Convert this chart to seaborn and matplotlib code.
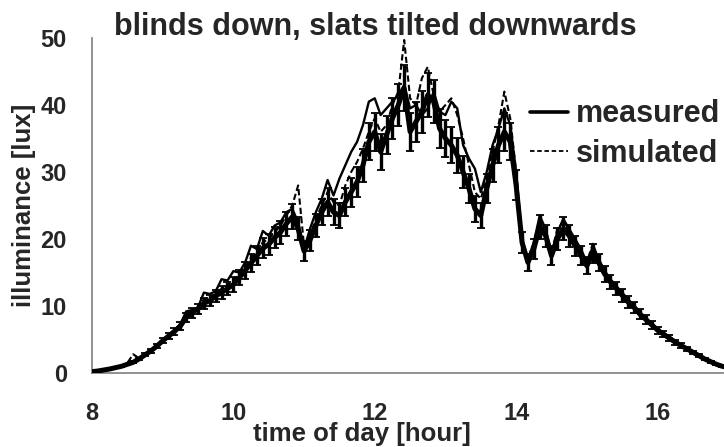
import numpy as np
import pandas as pd
import matplotlib
matplotlib.use("Agg")
import matplotlib.pyplot as plt
import seaborn as sns
from matplotlib.lines import Line2D

# Time of day in 5-minute steps, 8:00 to 17:00
hours = [8 + k / 12 for k in range(109)]

# Measured illuminance (sensor with error bars) [lux]
measured = [
    0.2, 0.3, 0.45, 0.6, 0.8, 1.0, 1.3, 1.6, 2.1, 2.7,
    3.3, 4.0, 4.8, 5.5, 6.2, 7.0, 8.3, 9.0, 9.6, 10.4,
    10.8, 11.5, 12.0, 12.6, 13.2, 14.2, 15.3, 16.4, 17.5, 18.6,
    19.2, 20.2, 21.0, 22.3, 23.3, 21.5, 18.2, 19.8, 22.0, 24.0,
    25.5, 24.0, 23.5, 25.5, 27.0, 28.5, 31.0, 34.5, 36.0, 33.0,
    35.5, 38.0, 40.0, 42.5, 36.0, 37.5, 39.0, 41.5, 40.5, 36.5,
    35.0, 34.0, 32.5, 30.0, 27.5, 24.5, 23.5, 27.5, 31.0, 34.0,
    36.0, 34.5, 28.0, 19.5, 16.5, 18.5, 21.8, 20.5, 17.5, 20.0,
    21.5, 20.5, 19.0, 17.5, 16.0, 17.8, 16.5, 14.8, 13.6, 12.6,
    11.6, 10.6, 9.8, 8.8, 8.0, 7.2, 6.4, 5.8, 5.2, 4.6,
    4.1, 3.6, 3.1, 2.6, 2.1, 1.7, 1.3, 1.0, 0.8,
]

# Second measuring point, drawn as a thin solid line [lux]
measured_point2 = [
    0.25, 0.35, 0.5, 0.65, 0.85, 1.1, 1.4, 1.7, 2.2, 2.8,
    3.4, 4.1, 4.9, 5.7, 6.4, 7.3, 9.2, 9.4, 9.8, 12.0,
    11.8, 12.2, 14.0, 13.8, 15.2, 15.0, 16.5, 19.0, 18.5, 21.2,
    20.5, 22.0, 22.5, 24.0, 24.5, 22.5, 18.5, 21.5, 24.0, 26.0,
    28.8, 26.5, 29.0, 31.0, 33.0, 34.5, 37.0, 40.5, 41.0, 38.5,
    39.5, 40.5, 41.5, 43.0, 39.5, 40.0, 38.5, 39.5, 42.0, 39.0,
    38.5, 40.5, 39.5, 34.0, 32.0, 30.5, 27.0, 30.0, 34.0, 36.5,
    39.5, 37.0, 30.0, 20.0, 17.0, 19.5, 23.5, 21.5, 18.0, 21.0,
    23.0, 21.5, 20.0, 18.5, 16.5, 18.8, 17.0, 15.3, 14.0, 13.0,
    12.0, 11.0, 10.1, 9.1, 8.2, 7.4, 6.6, 6.0, 5.4, 4.8,
    4.2, 3.7, 3.2, 2.7, 2.2, 1.8, 1.4, 1.0, 0.8,
]

# Simulated illuminance [lux]
simulated = [
    0.2, 0.3, 0.45, 0.6, 0.8, 1.0, 1.5, 2.8, 2.2, 2.8,
    3.4, 4.1, 4.9, 5.7, 6.4, 7.2, 8.8, 9.3, 9.8, 11.0,
    11.2, 11.8, 12.6, 13.0, 13.8, 14.8, 16.0, 17.2, 18.0, 19.5,
    20.0, 21.0, 22.0, 23.5, 25.0, 28.0, 19.0, 20.5, 23.0, 25.0,
    27.0, 25.5, 25.0, 28.0, 30.0, 31.5, 33.5, 36.0, 38.0, 36.0,
    37.0, 40.0, 42.0, 49.7, 41.0, 40.0, 44.0, 45.7, 41.5, 39.0,
    40.0, 41.0, 38.5, 35.0, 31.0, 27.0, 26.0, 29.0, 33.0, 37.0,
    42.0, 38.0, 30.0, 19.0, 17.0, 19.5, 23.0, 21.0, 18.0, 21.5,
    22.5, 21.0, 19.5, 18.0, 16.5, 19.3, 17.0, 15.2, 13.8, 12.8,
    11.8, 10.8, 10.0, 9.0, 8.1, 7.3, 6.5, 5.9, 5.3, 4.7,
    4.2, 3.7, 3.1, 2.6, 2.1, 1.7, 1.3, 1.0, 0.8,
]

# Relative uncertainty of the sensor readings
measured_rel_error = 0.08

x_ticks = [8, 10, 12, 14, 16]
y_ticks = [0, 10, 20, 30, 40, 50]

df = pd.DataFrame({
    "hour": hours,
    "measured": measured,
    "measured_point2": measured_point2,
    "simulated": simulated,
})

sns.set_theme(style="white")
plt.rcParams["font.family"] = ["Liberation Sans", "DejaVu Sans"]
plt.rcParams["font.weight"] = "bold"

fig = plt.figure(figsize=(7.24, 4.47), dpi=100)
ax = fig.add_axes([0.127, 0.1655, 0.873, 0.7495])

err = df["measured"] * measured_rel_error
ax.errorbar(df["hour"], df["measured"], yerr=err, fmt="none",
            ecolor="black", elinewidth=2.4, capsize=3.0, capthick=1.3, zorder=2)
sns.lineplot(data=df, x="hour", y="measured", ax=ax, color="black",
             linewidth=3.6, zorder=3)
sns.lineplot(data=df, x="hour", y="measured_point2", ax=ax, color="black",
             linewidth=1.7, zorder=3)
sns.lineplot(data=df, x="hour", y="simulated", ax=ax, color="black",
             linewidth=1.5, linestyle=(0, (3, 1.5)), zorder=4)

ax.set_xlim(8, 16.94)
ax.set_ylim(0, 50)
ax.set_xticks(x_ticks)
ax.set_yticks(y_ticks)
ax.tick_params(axis="both", direction="out", length=5, width=1,
               color="#7f7f7f", labelsize=17)
ax.tick_params(axis="y", pad=13)
ax.tick_params(axis="x", pad=16)
for lab in ax.get_xticklabels() + ax.get_yticklabels():
    lab.set_fontweight("bold")
for side in ["top", "right"]:
    ax.spines[side].set_visible(False)
for side in ["left", "bottom"]:
    ax.spines[side].set_color("#7f7f7f")
    ax.spines[side].set_linewidth(1.2)

ax.set_xlabel("time of day [hour]", fontsize=18.5, fontweight="bold")
ax.xaxis.set_label_coords(0.427, -0.183)
ax.xaxis.label.set_va("center")
ax.set_ylabel("illuminance [lux]", fontsize=18.5, fontweight="bold", labelpad=3)
fig.text(0.518, 0.94, "blinds down, slats tilted downwards", ha="center",
         va="center", fontsize=22, fontweight="bold")

handles = [
    Line2D([], [], color="black", linewidth=2.6),
    Line2D([], [], color="black", linewidth=1.3, linestyle=(0, (2.5, 1.5))),
]
ax.legend(handles, ["measured", "simulated"], loc="upper left",
          bbox_to_anchor=(0.694, 0.839), bbox_transform=fig.transFigure,
          frameon=False, prop={"size": 22, "weight": "bold"},
          handlelength=1.25, handletextpad=0.26, labelspacing=0.31)

fig.savefig("out.png", dpi=100)
